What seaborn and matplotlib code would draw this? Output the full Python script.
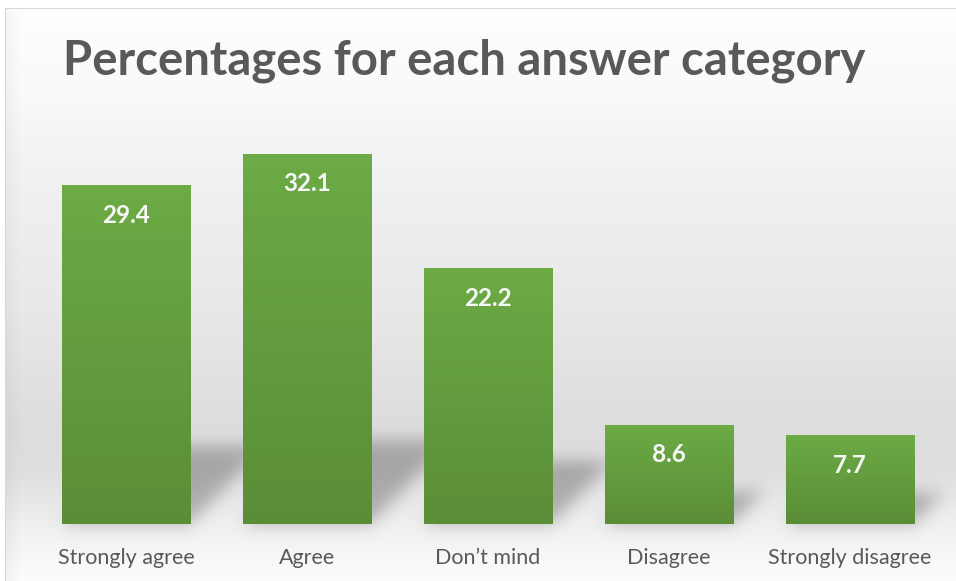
import numpy as np
import matplotlib
matplotlib.use("Agg")
import matplotlib.pyplot as plt
from matplotlib.path import Path
import seaborn as sns

categories = ["Strongly agree", "Agree", "Don\u2019t mind", "Disagree", "Strongly disagree"]
values = [29.4, 32.1, 22.2, 8.6, 7.7]
title = "Percentages for each answer category"

W, H = 956, 581
DPI = 100

sns.set_theme(style="white")
plt.rcParams["font.family"] = ["Lato", "DejaVu Sans"]

fig = plt.figure(figsize=(W / DPI, H / DPI), dpi=DPI)
fig.patch.set_facecolor("white")

bg_ax = fig.add_axes([0, 0, 1, 1], zorder=0)
bg_ax.axis("off")

ax = fig.add_axes([35.5 / W, 1 - 524 / H, 904.5 / W, 415 / H], zorder=1)
ax.patch.set_alpha(0)

sns.barplot(x=categories, y=values, color="#63a03e", width=0.708,
            saturation=1, ax=ax, zorder=2)
ax.set_xlim(-0.5, len(categories) - 0.5)
ax.set_ylim(0, 36)

# vertical green gradient on each bar
top_col = np.array([0x6c, 0xab, 0x45]) / 255
bot_col = np.array([0x5a, 0x8d, 0x38]) / 255
t = np.linspace(0, 1, 128)[:, None]
grad = (top_col * (1 - t) + bot_col * t)[:, None, :]
for p in list(ax.patches):
    x0, y0 = p.get_x(), p.get_y()
    w, h = p.get_width(), p.get_height()
    p.set_edgecolor("none")
    im = ax.imshow(grad, extent=[x0, x0 + w, y0, y0 + h], aspect="auto",
                   origin="upper", zorder=3, interpolation="bilinear")
    im.set_clip_path(p)
ax.set_xlim(-0.5, len(categories) - 0.5)
ax.set_ylim(0, 36)

# value labels inside the bars
for i, v in enumerate(values):
    ax.annotate(f"{v}", (i, v), xytext=(0, -30), textcoords="offset pixels",
                ha="center", va="center", color="#f7f7f7", fontsize=17.5,
                fontweight="bold", zorder=5)

ax.set_xlabel("")
ax.set_ylabel("")
ax.set_yticks([])
ax.tick_params(axis="x", length=0, pad=17, labelsize=15.5, labelcolor="#595959")
for s in ax.spines.values():
    s.set_visible(False)

# background: soft vertical gradient with a floor, plus blurred bar shadows
ys = np.arange(H)
stops_y = [8, 100, 150, 300, 420, 470, 520, 560, 581]
stops_v = [254, 249, 243, 233, 221, 222, 238, 248, 252]
col = np.interp(ys, stops_y, stops_v) / 255
img = np.repeat(col[:, None], W, axis=1)
xs = np.arange(W)
edge = 1 - 0.035 * np.clip(1 - (xs - 6) / 14, 0, 1)
img = img * edge[None, :]

fig.canvas.draw()
yy, xx = np.mgrid[0:H, 0:W]
pts = np.column_stack([xx.ravel() + 0.5, yy.ravel() + 0.5])
mask = np.zeros(H * W)
for p in ax.patches:
    (xl, yb), (xr, yt) = ax.transData.transform(
        [(p.get_x(), 0), (p.get_x() + p.get_width(), p.get_height())])
    yb_r, yt_r = H - yb, H - yt
    hp = yb_r - yt_r
    sh = 0.19 * hp + 14
    dx = 0.95 * sh
    poly = Path([(xl, yb_r), (xr, yb_r), (xr + dx, yb_r - sh),
                 (xl + dx, yb_r - sh), (xl, yb_r)])
    mask = np.maximum(mask, poly.contains_points(pts).astype(float))
mask = mask.reshape(H, W)

sig = 8.0
k = np.arange(-24, 25)
kern = np.exp(-0.5 * (k / sig) ** 2)
kern /= kern.sum()
mask = np.apply_along_axis(lambda r: np.convolve(r, kern, mode="same"), 1, mask)
mask = np.apply_along_axis(lambda c: np.convolve(c, kern, mode="same"), 0, mask)
img = img * (1 - 0.25 * mask)

img[:8, :] = 1.0
img[:, :5] = 1.0
img[8, 5:] = 0.85
img[8:, 5] = 0.85
rgb = np.dstack([img, img, img])
bg_ax.imshow(rgb, extent=[0, W, 0, H], aspect="auto", interpolation="nearest")
bg_ax.set_xlim(0, W)
bg_ax.set_ylim(0, H)

# title sized to its measured width
ttl = fig.text(464 / W, 1 - 61 / H, title, ha="center", va="center",
               fontsize=30, fontweight="bold", color="#595959")
r = fig.canvas.get_renderer()
wpx = ttl.get_window_extent(r).width
ttl.set_fontsize(30 * 800 / wpx)

fig.savefig("out.png", dpi=DPI)
